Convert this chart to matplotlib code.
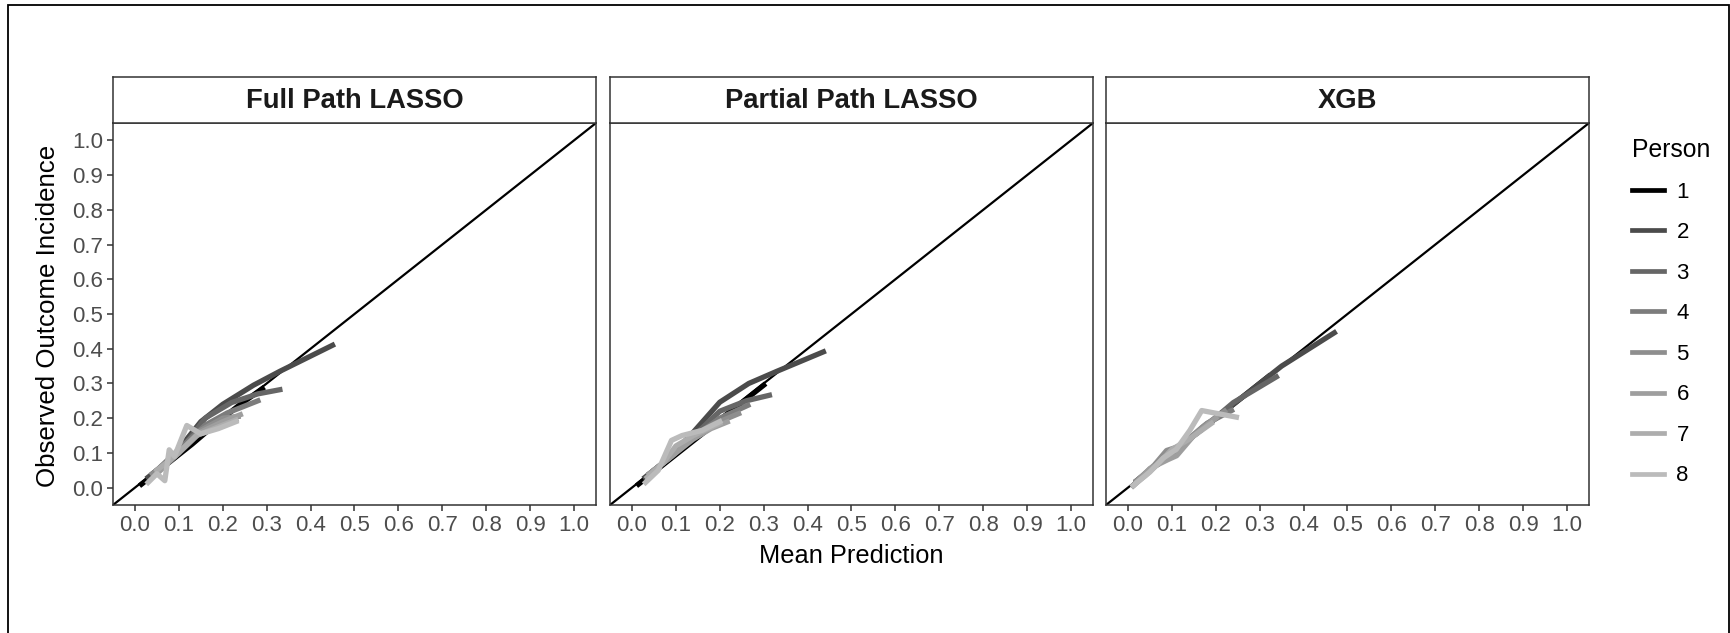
import matplotlib
matplotlib.use("Agg")
import matplotlib.pyplot as plt
from matplotlib.patches import Rectangle

plt.rcParams['font.family'] = ['Liberation Sans', 'DejaVu Sans']

# panels and persons
panels = ["Full Path LASSO", "Partial Path LASSO", "XGB"]
persons = ["1", "2", "3", "4", "5", "6", "7", "8"]
person_colors = ['#000000', '#4B4B4B', '#666666', '#7C7C7C', '#8E8E8E',
                 '#9E9E9E', '#ADADAD', '#BBBBBB']

# calibration curves: (mean prediction, observed incidence)
full_x = [
    [0.015, 0.04, 0.08, 0.13, 0.19, 0.24, 0.29],
    [0.03, 0.08, 0.15, 0.20, 0.27, 0.33, 0.45],
    [0.04, 0.10, 0.16, 0.22, 0.28, 0.33],
    [0.05, 0.10, 0.16, 0.21, 0.28],
    [0.04, 0.10, 0.15, 0.20, 0.235],
    [0.05, 0.10, 0.15, 0.20, 0.24],
    [0.05, 0.09, 0.14, 0.19, 0.23],
    [0.03, 0.05, 0.068, 0.078, 0.09, 0.118, 0.15, 0.19, 0.23],
]
full_y = [
    [0.010, 0.035, 0.075, 0.125, 0.19, 0.24, 0.285],
    [0.030, 0.08, 0.19, 0.24, 0.295, 0.335, 0.41],
    [0.040, 0.10, 0.20, 0.245, 0.27, 0.282],
    [0.050, 0.11, 0.18, 0.215, 0.25],
    [0.040, 0.10, 0.165, 0.20, 0.205],
    [0.040, 0.10, 0.16, 0.19, 0.21],
    [0.050, 0.09, 0.15, 0.175, 0.195],
    [0.015, 0.04, 0.02, 0.109, 0.09, 0.179, 0.155, 0.17, 0.19],
]

partial_x = [
    [0.015, 0.04, 0.08, 0.13, 0.19, 0.25, 0.30],
    [0.03, 0.08, 0.14, 0.20, 0.266, 0.33, 0.436],
    [0.04, 0.09, 0.15, 0.20, 0.26, 0.313],
    [0.04, 0.09, 0.15, 0.20, 0.264],
    [0.04, 0.09, 0.14, 0.19, 0.243],
    [0.04, 0.09, 0.14, 0.18, 0.217],
    [0.035, 0.07, 0.10, 0.14, 0.20],
    [0.031, 0.06, 0.09, 0.114, 0.16, 0.20],
]
partial_y = [
    [0.010, 0.035, 0.075, 0.125, 0.185, 0.245, 0.295],
    [0.030, 0.08, 0.16, 0.246, 0.30, 0.335, 0.391],
    [0.040, 0.09, 0.16, 0.22, 0.25, 0.266],
    [0.040, 0.09, 0.155, 0.20, 0.237],
    [0.040, 0.09, 0.15, 0.185, 0.213],
    [0.040, 0.09, 0.14, 0.17, 0.189],
    [0.030, 0.07, 0.12, 0.15, 0.185],
    [0.015, 0.05, 0.136, 0.15, 0.165, 0.19],
]

xgb_x = [
    [0.012, 0.04, 0.08, 0.13, 0.19, 0.26, 0.32],
    [0.02, 0.06, 0.12, 0.19, 0.26, 0.35, 0.47],
    [0.02, 0.06, 0.11, 0.17, 0.24, 0.338],
    [0.02, 0.07, 0.12, 0.18, 0.236],
    [0.02, 0.06, 0.088, 0.12, 0.17, 0.22],
    [0.015, 0.05, 0.09, 0.111, 0.15, 0.20],
    [0.012, 0.04, 0.07, 0.10, 0.14, 0.19],
    [0.012, 0.05, 0.08, 0.11, 0.141, 0.168, 0.247],
]
xgb_y = [
    [0.006, 0.04, 0.08, 0.13, 0.19, 0.26, 0.32],
    [0.020, 0.06, 0.12, 0.19, 0.26, 0.35, 0.446],
    [0.020, 0.06, 0.11, 0.17, 0.245, 0.319],
    [0.020, 0.07, 0.12, 0.185, 0.222],
    [0.020, 0.065, 0.107, 0.12, 0.175, 0.22],
    [0.010, 0.055, 0.08, 0.092, 0.15, 0.20],
    [0.006, 0.035, 0.07, 0.11, 0.14, 0.185],
    [0.006, 0.045, 0.085, 0.11, 0.165, 0.222, 0.203],
]

panel_x = [full_x, partial_x, xgb_x]
panel_y = [full_y, partial_y, xgb_y]

ticks = [i / 10 for i in range(11)]
tick_labels = [f"{t:.1f}" for t in ticks]

W, H = 1731, 633
fig = plt.figure(figsize=(W / 100, H / 100), dpi=100)

edge = '#333333'
lefts = [113, 610, 1106]
pw = 483
ptop, pbot = 123, 505
stop = 77

lines = []
for k, left in enumerate(lefts):
    ax = fig.add_axes([left / W, 1 - pbot / H, pw / W, (pbot - ptop) / H])
    ax.axline((0, 0), slope=1, color='black', lw=1.6, zorder=1)
    for i, p in enumerate(persons):
        ln, = ax.plot(panel_x[k][i], panel_y[k][i], color=person_colors[i],
                      lw=3.8, solid_joinstyle='round', zorder=2 + i)
        if k == 0:
            lines.append(ln)
    ax.set_xlim(-0.05, 1.05)
    ax.set_ylim(-0.05, 1.05)
    ax.set_xticks(ticks)
    ax.set_xticklabels(tick_labels)
    ax.set_yticks(ticks)
    if k == 0:
        ax.set_yticklabels(tick_labels)
    else:
        ax.tick_params(axis='y', left=False, labelleft=False)
    ax.tick_params(length=4, width=1.1, color=edge, labelsize=16,
                   labelcolor='#4D4D4D', pad=3)
    for s in ax.spines.values():
        s.set_color(edge)
        s.set_linewidth(1.1)

    # facet strip
    sax = fig.add_axes([left / W, 1 - ptop / H, pw / W, (ptop - stop) / H])
    sax.set_xticks([])
    sax.set_yticks([])
    for s in sax.spines.values():
        s.set_color(edge)
        s.set_linewidth(1.1)
    sax.text(0.5, 0.48, panels[k], ha='center', va='center', fontsize=19.7,
             fontweight='bold', color='#1A1A1A', transform=sax.transAxes)

fig.text(48 / W, 1 - 316 / H, "Observed Outcome Incidence", rotation=90,
         ha='center', va='center', fontsize=18.6)
fig.text(851.5 / W, 1 - 556 / H, "Mean Prediction", ha='center',
         va='center', fontsize=18.3)

leg = fig.legend(lines, persons, title="Person", loc='upper left',
                 bbox_to_anchor=(1612 / W, 1 - 118 / H), frameon=False,
                 fontsize=16, title_fontsize=17.8, handlelength=1.45,
                 handletextpad=0.55, labelspacing=0.88)
leg._legend_box.align = 'left'
for h in leg.legend_handles:
    h.set_linewidth(3.4)

fig.add_artist(Rectangle((8 / W, -0.1), (1729 - 8) / W, 1.1 - 5 / H,
                         transform=fig.transFigure, fill=False,
                         edgecolor='black', lw=1.3))

fig.savefig("out.png", dpi=100)
